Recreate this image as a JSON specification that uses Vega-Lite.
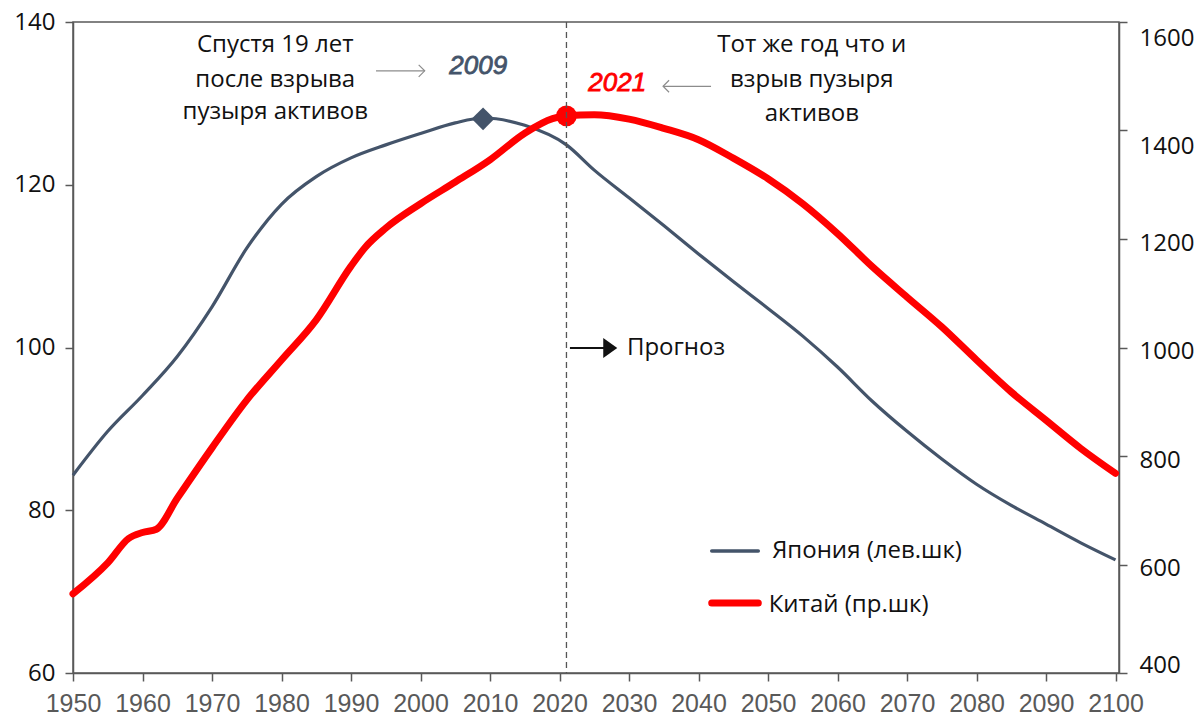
{
  "$schema": "https://vega.github.io/schema/vega-lite/v6.json",
  "width": 1046,
  "height": 651,
  "autosize": {"type": "none"},
  "padding": {"left": 73, "top": 22, "right": 82, "bottom": 43},
  "background": "white",
  "config": {
    "view": {"stroke": "#595959", "strokeWidth": 1.5},
    "axis": {"grid": false, "domainColor": "#595959", "domainWidth": 1.5, "tickColor": "#595959", "tickWidth": 1.5, "tickSize": 8}
  },
  "datasets": {
    "japan": [
      {"year": 1950, "value": 84.3}, {"year": 1955, "value": 89.7}, {"year": 1960, "value": 94.1},
      {"year": 1965, "value": 98.9}, {"year": 1970, "value": 105.0}, {"year": 1975, "value": 112.2},
      {"year": 1980, "value": 117.6}, {"year": 1985, "value": 121.0}, {"year": 1990, "value": 123.3},
      {"year": 1995, "value": 124.9}, {"year": 2000, "value": 126.3}, {"year": 2005, "value": 127.6},
      {"year": 2009, "value": 128.2}, {"year": 2015, "value": 127.3}, {"year": 2021, "value": 124.9},
      {"year": 2025, "value": 121.8}, {"year": 2030, "value": 118.4}, {"year": 2035, "value": 115.0},
      {"year": 2040, "value": 111.5}, {"year": 2045, "value": 108.1}, {"year": 2050, "value": 104.8},
      {"year": 2055, "value": 101.4}, {"year": 2060, "value": 97.6}, {"year": 2065, "value": 93.4},
      {"year": 2070, "value": 89.7}, {"year": 2075, "value": 86.3}, {"year": 2080, "value": 83.2},
      {"year": 2085, "value": 80.6}, {"year": 2090, "value": 78.3}, {"year": 2095, "value": 76.0},
      {"year": 2100, "value": 73.9}
    ],
    "china": [
      {"year": 1950, "value": 546}, {"year": 1955, "value": 603}, {"year": 1958, "value": 648},
      {"year": 1960, "value": 659}, {"year": 1962, "value": 665}, {"year": 1965, "value": 722},
      {"year": 1970, "value": 815}, {"year": 1975, "value": 903}, {"year": 1980, "value": 977},
      {"year": 1985, "value": 1051}, {"year": 1990, "value": 1150}, {"year": 1992, "value": 1184},
      {"year": 1995, "value": 1220}, {"year": 2000, "value": 1265}, {"year": 2005, "value": 1305},
      {"year": 2010, "value": 1346}, {"year": 2015, "value": 1395}, {"year": 2019, "value": 1422},
      {"year": 2021, "value": 1427}, {"year": 2025, "value": 1429}, {"year": 2030, "value": 1421},
      {"year": 2035, "value": 1404}, {"year": 2040, "value": 1383}, {"year": 2045, "value": 1349},
      {"year": 2050, "value": 1311}, {"year": 2055, "value": 1265}, {"year": 2060, "value": 1210},
      {"year": 2065, "value": 1149}, {"year": 2070, "value": 1093}, {"year": 2075, "value": 1038},
      {"year": 2080, "value": 977}, {"year": 2085, "value": 918}, {"year": 2090, "value": 866},
      {"year": 2095, "value": 814}, {"year": 2100, "value": 768}
    ],
    "japanPeak": [{"year": 2009, "value": 128.1}],
    "chinaPeak": [{"year": 2021, "value": 1427}],
    "notes": [
      {"year": 1979.1, "value": 137.2, "text": "Спустя 19 лет"},
      {"year": 1979.1, "value": 132.9, "text": "после взрыва"},
      {"year": 1979.1, "value": 128.9, "text": "пузыря активов"},
      {"year": 2056.3, "value": 137.2, "text": "Тот же год что и"},
      {"year": 2056.3, "value": 132.9, "text": "взрыв пузыря"},
      {"year": 2056.3, "value": 128.7, "text": "активов"}
    ],
    "labels": [
      {"year": 2050.6, "value": 75.0, "text": "Япония (лев.шк)"},
      {"year": 2050.1, "value": 68.4, "text": "Китай (пр.шк)"},
      {"year": 2029.7, "value": 99.94, "text": "Прогноз"}
    ],
    "peakJText": [{"year": 2008.3, "value": 134.6, "text": "2009"}],
    "peakCText": [{"year": 2028.3, "value": 132.5, "text": "2021"}],
    "arrows": [
      {"year": 1993.6, "year2": 2000.6, "value": 134.0, "dir": "right"},
      {"year": 2041.8, "year2": 2034.9, "value": 132.1, "dir": "left"}
    ],
    "forecast": [{"year": 2021.5, "year2": 2026.7, "value": 99.94}],
    "forecastHead": [{"year": 2027.3, "value": 99.94}],
    "legendLines": [
      {"year": 2041.9, "year2": 2048.6, "value": 75.0, "series": "Япония"},
      {"year": 2041.9, "year2": 2048.6, "value": 68.6, "series": "Китай"}
    ],
    "split": [{"year": 2021}]
  },
  "encoding": {
    "x": {
      "field": "year", "type": "quantitative", "title": null,
      "scale": {"domain": [1950, 2100.5], "nice": false, "zero": false},
      "axis": {
        "values": [1950, 1960, 1970, 1980, 1990, 2000, 2010, 2020, 2030, 2040, 2050, 2060, 2070, 2080, 2090, 2100],
        "format": "d", "labelFont": "Liberation Sans", "labelFontSize": 25, "labelColor": "#595959",
        "labelPadding": 10, "labelFlush": false, "labelOverlap": false
      }
    }
  },
  "layer": [
    {
      "encoding": {
        "y": {
          "field": "value", "type": "quantitative", "title": null,
          "scale": {"domain": [60, 140], "nice": false, "zero": false},
          "axis": {
            "orient": "left", "values": [60, 80, 100, 120, 140], "format": "d", "labelFont": "Open Sans", "labelFontSize": 24,
            "labelColor": "#111111", "labelPadding": 10
          }
        }
      },
      "layer": [
        {"data": {"name": "japan"}, "mark": {"type": "line", "color": "#44546A", "strokeWidth": 3.2, "interpolate": "monotone"}},
        {"data": {"name": "japanPeak"}, "mark": {"type": "point", "shape": "diamond", "size": 520, "filled": true, "color": "#44546A", "opacity": 1}},
        {"data": {"name": "notes"}, "mark": {"type": "text", "font": "Open Sans", "fontSize": 24, "color": "#111111", "align": "center", "baseline": "middle"}, "encoding": {"text": {"field": "text"}}},
        {"data": {"name": "labels"}, "mark": {"type": "text", "font": "Open Sans", "fontSize": 24, "color": "#111111", "align": "left", "baseline": "middle"}, "encoding": {"text": {"field": "text"}}},
        {"data": {"name": "peakJText"}, "mark": {"type": "text", "font": "Liberation Sans", "fontSize": 26, "fontStyle": "italic", "fill": "#44546A", "stroke": "#44546A", "strokeWidth": 0.8, "align": "center", "baseline": "middle"}, "encoding": {"text": {"field": "text"}}},
        {"data": {"name": "peakCText"}, "mark": {"type": "text", "font": "Liberation Sans", "fontSize": 26, "fontStyle": "italic", "fill": "#FF0000", "stroke": "#FF0000", "strokeWidth": 0.8, "align": "center", "baseline": "middle"}, "encoding": {"text": {"field": "text"}}},
        {"data": {"name": "arrows"}, "mark": {"type": "rule", "color": "#8c8c8c", "strokeWidth": 1.2}, "encoding": {"x2": {"field": "year2"}}},
        {"data": {"name": "arrows"}, "transform": [{"filter": "datum.dir == 'right'"}], "mark": {"type": "point", "shape": "M-1,-1L0,0L-1,1", "size": 144, "filled": false, "stroke": "#8c8c8c", "strokeWidth": 1.2, "opacity": 1}, "encoding": {"x": {"field": "year2", "type": "quantitative"}}},
        {"data": {"name": "arrows"}, "transform": [{"filter": "datum.dir == 'left'"}], "mark": {"type": "point", "shape": "M1,-1L0,0L1,1", "size": 144, "filled": false, "stroke": "#8c8c8c", "strokeWidth": 1.2, "opacity": 1}, "encoding": {"x": {"field": "year2", "type": "quantitative"}}},
        {"data": {"name": "forecast"}, "mark": {"type": "rule", "color": "#111111", "strokeWidth": 2}, "encoding": {"x2": {"field": "year2"}}},
        {"data": {"name": "forecastHead"}, "mark": {"type": "point", "shape": "M-0.7,-1L0.7,0L-0.7,1Z", "size": 400, "filled": true, "color": "#111111", "opacity": 1}},
        {"data": {"name": "legendLines"}, "transform": [{"filter": "datum.series == 'Япония'"}], "mark": {"type": "rule", "color": "#44546A", "strokeWidth": 3.5, "strokeCap": "round"}, "encoding": {"x2": {"field": "year2"}}},
        {"data": {"name": "legendLines"}, "transform": [{"filter": "datum.series == 'Китай'"}], "mark": {"type": "rule", "color": "#FF0000", "strokeWidth": 7, "strokeCap": "round"}, "encoding": {"x2": {"field": "year2"}}}
      ]
    },
    {
      "encoding": {
        "y": {
          "field": "value", "type": "quantitative", "title": null,
          "scale": {"domain": [400, 1600], "nice": false, "zero": false},
          "axis": {
            "orient": "right", "values": [400, 600, 800, 1000, 1200, 1400, 1600], "format": "d", "labelFont": "Open Sans", "labelFontSize": 24,
            "labelColor": "#111111", "labelPadding": 12, "labelOffset": 4,
            "labelBaseline": {"condition": [{"test": "datum.value >= 1400", "value": "top"}, {"test": "datum.value <= 400", "value": "bottom"}], "value": "middle"}
          }
        }
      },
      "layer": [
        {"data": {"name": "china"}, "mark": {"type": "line", "color": "#FF0000", "strokeWidth": 7, "interpolate": "monotone", "strokeCap": "round"}},
        {"data": {"name": "chinaPeak"}, "mark": {"type": "point", "shape": "circle", "size": 430, "filled": true, "color": "#FF0000", "opacity": 1}}
      ]
    },
    {
      "data": {"name": "split"},
      "mark": {"type": "rule", "color": "#555555", "strokeWidth": 1.3, "strokeDash": [6, 4]},
      "encoding": {}
    }
  ],
  "resolve": {"scale": {"y": "independent"}, "axis": {"y": "independent"}}
}
